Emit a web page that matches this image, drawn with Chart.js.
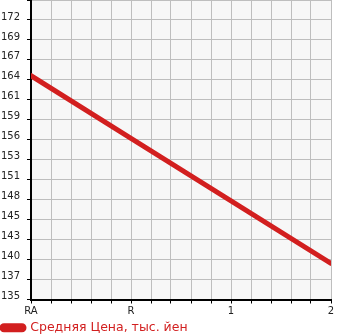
<!DOCTYPE html>
<html>
<head>
<meta charset="utf-8">
<script src="https://cdn.jsdelivr.net/npm/chart.js@4/dist/chart.umd.min.js"></script>
<style>
  html, body { margin: 0; padding: 0; background: #fff; }
  #wrap { width: 345px; height: 335px; }
</style>
</head>
<body>
<div id="wrap"><canvas id="priceChart" width="345" height="335"></canvas></div>
<script>
const categories = ['RA', 'R', '1', '2'];
const prices = [164.9, 156.6, 148.3, 140.0];
const yTickLabels = ['135', '137', '140', '143', '145', '148', '151', '153', '156', '159', '161', '164', '167', '169', '172'];
const seriesLabel = 'Средняя Цена, тыс. йен';

const yMin = 135.2;
const yStep = 2.65;
const yMax = yMin + yTickLabels.length * yStep;
const xSub = 5; // grid cells between two categories

const red = '#d21f1f';
const font = { family: 'DejaVu Sans', size: 10 };

const plotBg = {
    id: 'plotBg',
    beforeDraw(chart) {
        const { ctx, chartArea: a } = chart;
        ctx.save();
        ctx.fillStyle = '#f7f7f7';
        ctx.fillRect(a.left, a.top, a.right - a.left, a.bottom - a.top);
        ctx.restore();
    }
};

new Chart(document.getElementById('priceChart'), {
    type: 'line',
    data: {
        datasets: [{
            label: seriesLabel,
            data: prices.map((v, i) => ({ x: i, y: v })),
            borderColor: red,
            backgroundColor: red,
            borderWidth: 5,
            borderCapStyle: 'round',
            pointRadius: 0,
            tension: 0
        }]
    },
    options: {
        responsive: false,
        animation: false,
        // legend box carries 10px of extra height in chart.js, pull it down
        layout: { padding: { left: 0, right: 14, top: 0, bottom: -9 } },
        scales: {
            x: {
                type: 'linear',
                min: 0,
                max: categories.length - 1,
                afterBuildTicks: (scale) => {
                    const n = (categories.length - 1) * xSub;
                    scale.ticks = Array.from({ length: n + 1 }, (_, i) => ({ value: i / xSub }));
                },
                afterFit: (scale) => {
                    scale.height = 20;
                    scale.paddingLeft = 0;
                    scale.paddingRight = 0;
                },
                ticks: {
                    autoSkip: false,
                    maxRotation: 0,
                    padding: 2,
                    color: '#222',
                    font: font,
                    callback: (v, i) => (i % xSub === 0 ? categories[i / xSub] : '')
                },
                grid: { color: '#bebebe', tickColor: '#000', tickLength: 4 },
                border: { color: '#000', width: 2 }
            },
            y: {
                min: yMin,
                max: yMax,
                afterBuildTicks: (scale) => {
                    scale.ticks = Array.from({ length: yTickLabels.length + 1 }, (_, i) => ({ value: yMin + i * yStep }));
                },
                afterFit: (scale) => {
                    scale.width = 31;
                    scale.paddingTop = 0;
                    scale.paddingBottom = 0;
                },
                ticks: {
                    autoSkip: false,
                    padding: 7,
                    labelOffset: -3,
                    color: '#222',
                    font: font,
                    callback: (v, i) => yTickLabels[i] ?? ''
                },
                grid: { color: '#bebebe', tickColor: '#000', tickLength: 4 },
                border: { color: '#000', width: 2 }
            }
        },
        plugins: {
            legend: {
                position: 'bottom',
                align: 'start',
                labels: {
                    boxWidth: 22,
                    boxHeight: 4,
                    useBorderRadius: true,
                    borderRadius: 2,
                    padding: 2,
                    color: red,
                    font: { family: 'DejaVu Sans', size: 12.5 }
                }
            },
            tooltip: { enabled: false }
        }
    },
    plugins: [plotBg]
});
</script>
</body>
</html>
